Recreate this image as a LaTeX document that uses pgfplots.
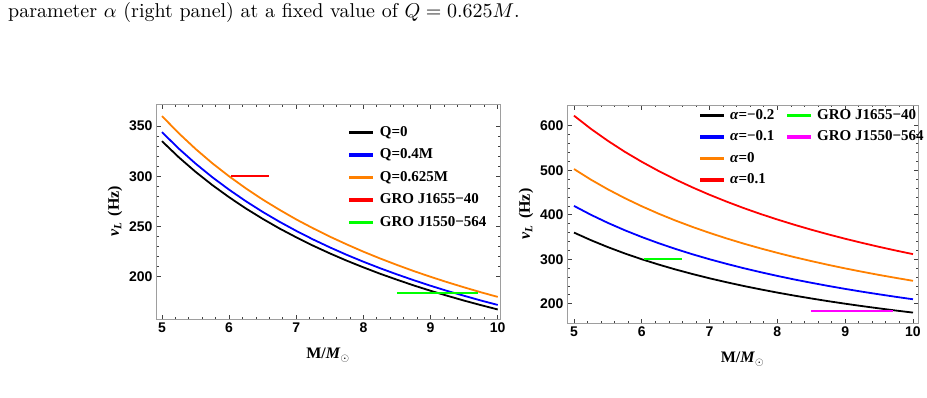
\documentclass[border=0pt]{standalone}
\usepackage{pgfplots}
\usepackage{pgfplotstable}
\usepackage{fontspec}
\pgfplotsset{compat=1.18}
\newfontfamily\serifb{Liberation Serif}
\newfontfamily\sansb{Liberation Sans Bold}

\definecolor{mOrange}{rgb}{1,0.5,0}
\definecolor{mGreen}{rgb}{0,1,0}
\definecolor{mMagenta}{rgb}{1,0,1}
\definecolor{frame}{gray}{0.62}

% Larmor-type frequency nu_L (Hz) versus black-hole mass M/M_sun
\pgfplotstableread{
M     q0     q04    q0625
5.00  335.0  344.0  360.0
5.25  319.0  327.6  342.9
5.50  304.5  312.7  327.3
5.75  291.3  299.1  313.0
6.00  279.2  286.7  300.0
6.25  268.0  275.2  288.0
6.50  257.7  264.6  276.9
6.75  248.1  254.8  266.7
7.00  239.3  245.7  257.1
7.25  231.0  237.2  248.3
7.50  223.3  229.3  240.0
7.75  216.1  221.9  232.3
8.00  209.4  215.0  225.0
8.25  203.0  208.5  218.2
8.50  197.1  202.4  211.8
8.75  191.4  196.6  205.7
9.00  186.1  191.1  200.0
9.25  181.1  185.9  194.6
9.50  176.3  181.1  189.5
9.75  171.8  176.4  184.6
10.00 167.5  172.0  180.0
}\qtable

\pgfplotstableread{
M     am02   am01   a0     a01
5.00  360.0  420.0  503.0  623.0
5.25  342.9  400.0  479.0  593.3
5.50  327.3  381.8  457.3  566.4
5.75  313.0  365.2  437.4  541.7
6.00  300.0  350.0  419.2  519.2
6.25  288.0  336.0  402.4  498.4
6.50  276.9  323.1  386.9  479.2
6.75  266.7  311.1  372.6  461.5
7.00  257.1  300.0  359.3  445.0
7.25  248.3  289.7  346.9  429.7
7.50  240.0  280.0  335.3  415.3
7.75  232.3  271.0  324.5  401.9
8.00  225.0  262.5  314.4  389.4
8.25  218.2  254.5  304.8  377.6
8.50  211.8  247.1  295.9  366.5
8.75  205.7  240.0  287.4  356.0
9.00  200.0  233.3  279.4  346.1
9.25  194.6  227.0  271.9  336.8
9.50  189.5  221.1  264.7  327.9
9.75  184.6  215.4  258.0  319.5
10.00 180.0  210.0  251.5  311.5
}\atable

% observed QPO frequencies with their mass ranges
\pgfplotstableread{
M    nu
6.03 300
6.60 300
}\groA
\pgfplotstableread{
M    nu
8.50 184
9.70 184
}\groB

\pgfplotsset{
  curve/.style={line width=1.8pt, color=#1},
  panel/.style={
    scale only axis,
    anchor=south west,
    axis line style={frame, line width=0.9pt},
    tick align=inside,
    major tick length=4.5pt,
    minor tick length=2.5pt,
    every tick/.style={black!75, line width=0.8pt},
    minor x tick num=4,
    xtick={5,6,7,8,9,10},
    /pgf/number format/assume math mode=true,
    ticklabel style={font=\sansb\fontsize{14}{14}\selectfont},
    label style={font=\serifb\bfseries\fontsize{16}{16}\selectfont},
    xlabel={M/\textit{M}$_{\odot}$},
    xlabel style={yshift=-9pt},
    ylabel={\textit{ν}\raisebox{-0.35ex}{\fontsize{11}{11}\selectfont\textit{L}}\, (Hz)},
    legend cell align=left,
    legend image code/.code={\fill[#1] (0pt,-0.8pt) rectangle (22pt,0.8pt);},
  },
}

\begin{document}
\begin{tikzpicture}[x=1pt,y=1pt]
\path (0,0) rectangle (927,397);

\node[anchor=base west, inner sep=0pt]
  at (8,379) {\scalebox{2}{\fontsize{10}{12}\selectfont parameter $\alpha$ (right panel) at a fixed value of $Q = 0.625M$.}};

% left panel: varying Q
\begin{axis}[panel,
  at={(156pt,78pt)}, width=344pt, height=215pt,
  xmin=4.911, xmax=10.034, ymin=158, ymax=372,
  ytick={200,250,300,350}, minor y tick num=4,
  legend style={draw=none, fill=none, at={(0.561,0.907)}, anchor=north west,
    font=\serifb\bfseries\fontsize{15}{15}\selectfont, inner sep=0pt,
    row sep=6pt,
    nodes={inner sep=1pt, text height=11pt, text depth=3.5pt},
    /tikz/every odd column/.append style={column sep=6pt}},
]
\addplot[curve=black, forget plot] table[x=M, y=q0] {\qtable};
\addplot[curve=blue, forget plot] table[x=M, y=q04] {\qtable};
\addplot[curve=mOrange, forget plot] table[x=M, y=q0625] {\qtable};
\addplot[curve=red, forget plot] table[x=M, y=nu] {\groA};
\addplot[curve=mGreen, forget plot] table[x=M, y=nu] {\groB};
\addlegendimage{curve=black}
\addlegendentry{Q=0}
\addlegendimage{curve=blue}
\addlegendentry{Q=0.4M}
\addlegendimage{curve=mOrange}
\addlegendentry{Q=0.625M}
\addlegendimage{curve=red}
\addlegendentry{GRO J1655−40}
\addlegendimage{curve=mGreen}
\addlegendentry{GRO J1550−564}
\end{axis}

% right panel: varying alpha at Q = 0.625M
\begin{axis}[panel,
  at={(567pt,74pt)}, width=351pt, height=218pt,
  xmin=4.897, xmax=10.074, ymin=156.6, ymax=647,
  ytick={200,300,400,500,600}, minor y tick num=4,
  legend columns=2,
  legend style={draw=none, fill=none, at={(0.379,0.99)}, anchor=north west,
    font=\serifb\bfseries\fontsize{15}{15}\selectfont, inner sep=0pt,
    row sep=5pt,
    nodes={inner sep=1pt, text height=11pt, text depth=3.5pt},
    /tikz/every odd column/.append style={column sep=5pt},
    /tikz/every even column/.append style={column sep=12pt}},
]
\addplot[curve=black, forget plot] table[x=M, y=am02] {\atable};
\addplot[curve=blue, forget plot] table[x=M, y=am01] {\atable};
\addplot[curve=mOrange, forget plot] table[x=M, y=a0] {\atable};
\addplot[curve=red, forget plot] table[x=M, y=a01] {\atable};
\addplot[curve=mGreen, forget plot] table[x=M, y=nu] {\groA};
\addplot[curve=mMagenta, forget plot] table[x=M, y=nu] {\groB};
\addlegendimage{curve=black}
\addlegendentry{\textit{α}=−0.2}
\addlegendimage{curve=mGreen}
\addlegendentry{GRO J1655−40}
\addlegendimage{curve=blue}
\addlegendentry{\textit{α}=−0.1}
\addlegendimage{curve=mMagenta}
\addlegendentry{GRO J1550−564}
\addlegendimage{curve=mOrange}
\addlegendentry{\textit{α}=0}
\addlegendimage{empty legend}
\addlegendentry{}
\addlegendimage{curve=red}
\addlegendentry{\textit{α}=0.1}
\end{axis}
\end{tikzpicture}
\end{document}
